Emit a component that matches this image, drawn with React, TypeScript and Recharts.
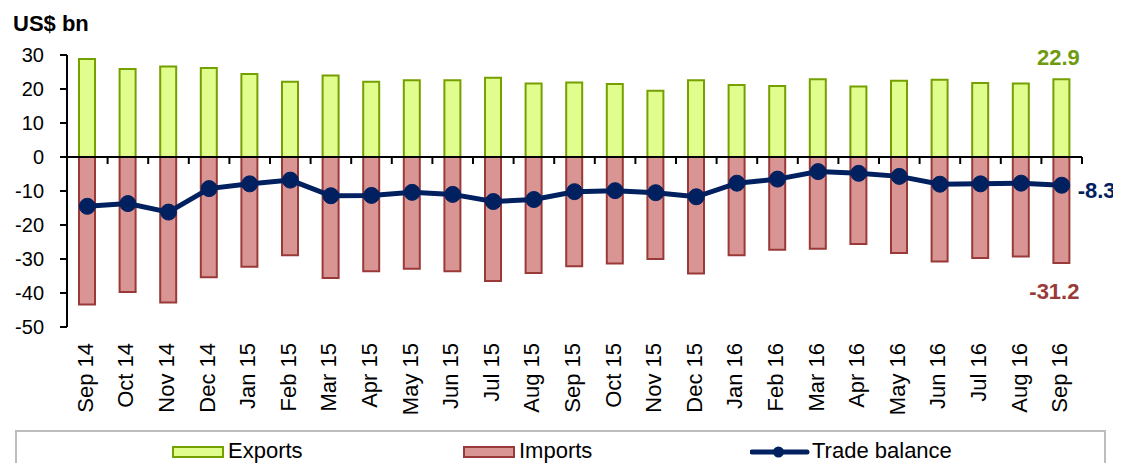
import {
  ComposedChart,
  Bar,
  Line,
  XAxis,
  YAxis,
  ReferenceLine,
  LabelList,
} from "recharts";

const months = [
  "Sep 14", "Oct 14", "Nov 14", "Dec 14", "Jan 15", "Feb 15", "Mar 15",
  "Apr 15", "May 15", "Jun 15", "Jul 15", "Aug 15", "Sep 15", "Oct 15",
  "Nov 15", "Dec 15", "Jan 16", "Feb 16", "Mar 16", "Apr 16", "May 16",
  "Jun 16", "Jul 16", "Aug 16", "Sep 16",
];

const exportsBn = [
  28.8, 25.9, 26.6, 26.2, 24.4, 22.1, 24.0, 22.1, 22.6, 22.6, 23.3, 21.6,
  21.9, 21.5, 19.5, 22.6, 21.2, 20.9, 22.9, 20.7, 22.4, 22.7, 21.8, 21.6, 22.9,
];

const importsBn = [
  -43.4, -39.7, -42.8, -35.4, -32.3, -28.9, -35.6, -33.6, -32.9, -33.6, -36.5,
  -34.1, -32.1, -31.3, -30.0, -34.3, -28.9, -27.3, -27.0, -25.6, -28.2, -30.7,
  -29.7, -29.3, -31.2,
];

const balanceBn = [
  -14.5, -13.7, -16.2, -9.3, -7.9, -6.8, -11.4, -11.3, -10.4, -11.0, -13.1,
  -12.5, -10.2, -9.9, -10.5, -11.7, -7.7, -6.5, -4.3, -4.8, -5.7, -8.0, -7.9,
  -7.7, -8.3,
];

const yTicks = [30, 20, 10, 0, -10, -20, -30, -40, -50];

const data = months.map((month, i) => ({
  month,
  exports: exportsBn[i],
  imports: importsBn[i],
  balance: balanceBn[i],
}));

const EXPORT_FILL = "#E1FD8E";
const EXPORT_STROKE = "#74A000";
const EXPORT_TEXT = "#6F9A10";
const IMPORT_FILL = "#D99594";
const IMPORT_STROKE = "#9A3A38";
const NAVY = "#002060";
const FONT = "'Liberation Sans', Arial, sans-serif";
const LAST = months.length - 1;

// horizontal zero line with small category tick marks hanging below it
const ZeroAxis = (props: any) => {
  const { x1, x2, y1 } = props;
  const step = (x2 - x1) / months.length;
  return (
    <g>
      <line x1={x1} y1={y1} x2={x2} y2={y1} stroke="#000" strokeWidth={2} />
      {months.map((m, i) => (
        <line
          key={m}
          x1={x1 + step * (i + 1)}
          x2={x1 + step * (i + 1)}
          y1={y1}
          y2={y1 + 7}
          stroke="#000"
          strokeWidth={2}
        />
      ))}
    </g>
  );
};

const MonthTick = (props: any) => {
  const { x, y, payload } = props;
  return (
    <text
      transform={`translate(${x},${y + 16}) rotate(-90)`}
      textAnchor="end"
      dy="0.25em"
      fontSize={22}
      fontFamily={FONT}
      fill="#000"
    >
      {payload.value}
    </text>
  );
};

const box = (p: any) => {
  const vb = p.viewBox ?? p;
  const x = vb.x ?? p.x;
  const y = vb.y ?? p.y;
  const w = vb.width ?? p.width ?? 0;
  const h = vb.height ?? p.height ?? 0;
  return { x, y, w, top: Math.min(y, y + h), bottom: Math.max(y, y + h) };
};

const ExportLabel = (p: any) => {
  if (p.index !== LAST) return null;
  const b = box(p);
  return (
    <text x={b.x + b.w / 2 - 3} y={b.top - 14} textAnchor="middle" fontSize={22}
      fontWeight="bold" fontFamily={FONT} fill={EXPORT_TEXT}>
      {p.value}
    </text>
  );
};

const ImportLabel = (p: any) => {
  if (p.index !== LAST) return null;
  const b = box(p);
  return (
    <text x={b.x + b.w / 2 - 7} y={b.bottom + 36} textAnchor="middle" fontSize={22}
      fontWeight="bold" fontFamily={FONT} fill={IMPORT_STROKE}>
      {p.value}
    </text>
  );
};

const BalanceLabel = (p: any) => {
  if (p.index !== LAST) return null;
  const b = box(p);
  return (
    <text x={b.x + 16} y={b.y + 13} textAnchor="start" fontSize={22}
      fontWeight="bold" fontFamily={FONT} fill={NAVY}>
      {p.value}
    </text>
  );
};

const legendText: React.CSSProperties = {
  position: "absolute",
  top: 432,
  fontSize: 22,
  lineHeight: "22px",
  color: "#000",
  whiteSpace: "nowrap",
};

export default function App() {
  return (
    <div
      style={{
        position: "relative",
        width: 1113,
        height: 463,
        marginBottom: -8,
        overflow: "hidden",
        fontFamily: FONT,
      }}
    >
      <div
        style={{
          position: "absolute",
          left: 5,
          top: 5,
          fontSize: 22,
          lineHeight: "22px",
          fontWeight: "bold",
        }}
      >
        US$ bn
      </div>

      <ComposedChart
        width={1113}
        height={463}
        data={data}
        stackOffset="sign"
        margin={{ top: 47, right: 39, bottom: 44, left: 0 }}
      >
        <XAxis
          dataKey="month"
          interval={0}
          height={100}
          axisLine={false}
          tickLine={false}
          tickSize={0}
          tickMargin={0}
          tick={<MonthTick />}
        />
        <YAxis
          width={59}
          domain={[-50, 30]}
          ticks={yTicks}
          interval={0}
          tickSize={7}
          tickMargin={16}
          axisLine={{ stroke: "#000", strokeWidth: 2 }}
          tickLine={{ stroke: "#000", strokeWidth: 2 }}
          tick={{ fontSize: 20, fill: "#000", fontFamily: FONT }}
        />
        <Bar
          dataKey="exports"
          stackId="trade"
          barSize={16}
          fill={EXPORT_FILL}
          stroke={EXPORT_STROKE}
          strokeWidth={2}
          isAnimationActive={false}
        >
          <LabelList dataKey="exports" content={<ExportLabel />} />
        </Bar>
        <Bar
          dataKey="imports"
          stackId="trade"
          barSize={16}
          fill={IMPORT_FILL}
          stroke={IMPORT_STROKE}
          strokeWidth={2}
          isAnimationActive={false}
        >
          <LabelList dataKey="imports" content={<ImportLabel />} />
        </Bar>
        <ReferenceLine y={0} shape={<ZeroAxis />} />
        <Line
          dataKey="balance"
          stroke={NAVY}
          strokeWidth={5}
          dot={{ r: 8, fill: NAVY, stroke: NAVY, strokeWidth: 1 }}
          activeDot={false}
          isAnimationActive={false}
        >
          <LabelList dataKey="balance" content={<BalanceLabel />} />
        </Line>
      </ComposedChart>

      {/* legend */}
      <div
        style={{
          position: "absolute",
          left: 7,
          top: 422,
          width: 1091,
          height: 80,
          border: "2px solid #BDBDBD",
          boxSizing: "border-box",
        }}
      />
      <div
        style={{
          position: "absolute",
          left: 164,
          top: 438,
          width: 52,
          height: 12,
          background: EXPORT_FILL,
          border: `2px solid ${EXPORT_STROKE}`,
          boxSizing: "border-box",
        }}
      />
      <span style={{ ...legendText, left: 220 }}>Exports</span>
      <div
        style={{
          position: "absolute",
          left: 455,
          top: 438,
          width: 52,
          height: 12,
          background: IMPORT_FILL,
          border: `2px solid ${IMPORT_STROKE}`,
          boxSizing: "border-box",
        }}
      />
      <span style={{ ...legendText, left: 511 }}>Imports</span>
      <svg
        style={{ position: "absolute", left: 742, top: 434 }}
        width={60}
        height={20}
      >
        <line x1={2} y1={10} x2={57} y2={10} stroke={NAVY} strokeWidth={5} strokeLinecap="round" />
        <circle cx={28.5} cy={10} r={5.5} fill={NAVY} />
      </svg>
      <span style={{ ...legendText, left: 804 }}>Trade balance</span>
    </div>
  );
}
